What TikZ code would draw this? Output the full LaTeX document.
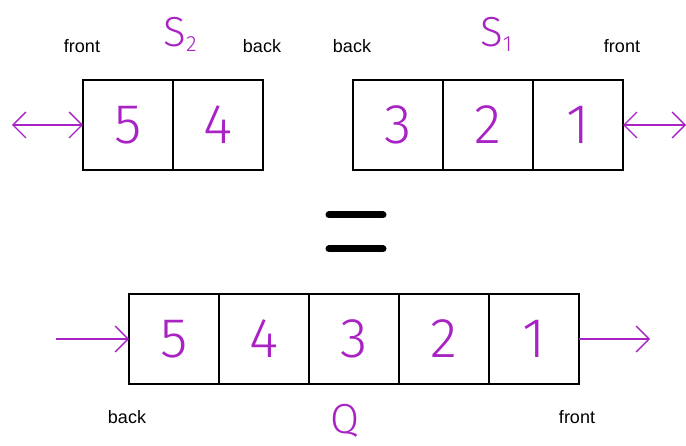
\documentclass[tikz,border=0pt]{standalone}
\usepackage{fontspec}
\setmainfont{Liberation Sans}
\newfontfamily\handfont{Fira Sans Light}
\usepackage{xcolor}
\definecolor{ink}{RGB}{168, 34, 196}
\usetikzlibrary{arrows.meta,positioning}

\newcommand{\subidx}[1]{\raisebox{-0.12em}{\fontsize{22}{22}\selectfont #1}}

\begin{document}
\begin{tikzpicture}[
  x=1pt, y=-1pt,
  cell/.style={draw, line width=1.4pt, minimum size=90pt, inner sep=0pt, outer sep=0pt, text=ink, font=\handfont\fontsize{56}{56}\selectfont},
  lbl/.style={font=\fontsize{18}{18}\selectfont, inner sep=0pt},
  qname/.style={text=ink, font=\handfont\fontsize{42}{42}\selectfont, inner sep=0pt},
  tip/.tip={Straight Barb[length=13pt, width=26pt]},
  arrow/.style={-tip, line width=1.3pt, color=ink},
  dblarrow/.style={tip-tip, line width=1.3pt, color=ink}
]
\useasboundingbox (0,0) rectangle (686,446);

% stack S2
\node[cell] (s2a) at (128,125) {5};
\node[cell, right=0pt of s2a] (s2b) {4};
% stack S1
\node[cell] (s1a) at (398,125) {3};
\node[cell, right=0pt of s1a] (s1b) {2};
\node[cell, right=0pt of s1b] (s1c) {1};
% queue Q
\node[cell] (q1) at (174,339) {5};
\node[cell, right=0pt of q1] (q2) {4};
\node[cell, right=0pt of q2] (q3) {3};
\node[cell, right=0pt of q3] (q4) {2};
\node[cell, right=0pt of q4] (q5) {1};

\node[lbl] (s2front) at (82,46) {front};
\node[lbl] (s2back) at (262,46) {back};
\node[lbl] (s1back) at (352,46) {back};
\node[lbl] (s1front) at (622,46) {front};
\node[lbl] (qback) at (127,417) {back};
\node[lbl] (qfront) at (577,417) {front};
\node[qname] (s2name) at (180,34) {S\subidx{2}};
\node[qname] (s1name) at (496,34) {S\subidx{1}};
\node[qname] (qname) at (345,421) {Q};

\coordinate (s2end) at (12,125);
\coordinate (s1end) at (686,125);
\coordinate (qin) at (56,339);
\coordinate (qout) at (650,339);

\draw[dblarrow] (s2end) -- (s2a.west);
\draw[dblarrow] (s1c.east) -- (s1end);
\draw[arrow] (qin) -- (q1.west);
\draw[arrow] (q5.east) -- (qout);

% equals sign
\draw[line width=7pt, line cap=round] (329,215) -- (383,215);
\draw[line width=7pt, line cap=round] (329,249) -- (383,249);
\end{tikzpicture}
\end{document}
